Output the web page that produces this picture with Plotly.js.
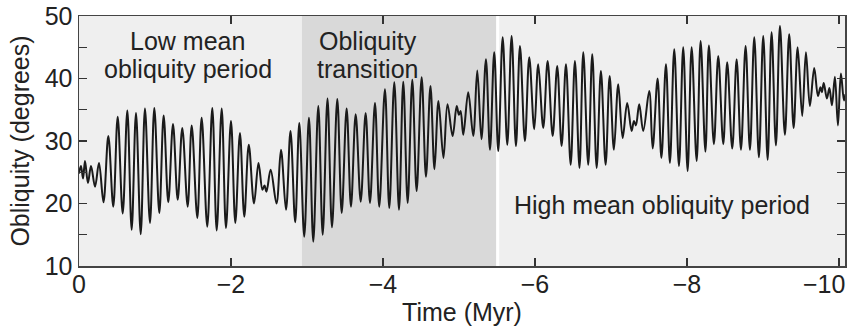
<!DOCTYPE html>
<html>
<head>
<meta charset="utf-8">
<script src="https://cdn.plot.ly/plotly-3.0.1.min.js"></script>
<style>html,body{margin:0;padding:0;background:#fff;}#chart{width:851px;height:326px;}</style>
</head>
<body>
<div id="chart"></div>
<script>
// Time (Myr) of each turning point
const time = [
  0, -0.026, -0.053, -0.079, -0.118, -0.158, -0.211, -0.263, -0.322, -0.386,
  -0.451, -0.509, -0.575, -0.636, -0.693, -0.750, -0.812, -0.868, -0.934, -0.991,
  -1.057, -1.114, -1.175, -1.237, -1.299, -1.359, -1.430, -1.483, -1.557, -1.614,
  -1.688, -1.754, -1.812, -1.878, -1.934, -2.000, -2.057, -2.118, -2.175, -2.234,
  -2.303, -2.362, -2.414, -2.441, -2.467, -2.522, -2.599, -2.658, -2.724, -2.783,
  -2.845, -2.899, -2.964, -3.026, -3.083, -3.149, -3.207, -3.270, -3.329, -3.399,
  -3.457, -3.522, -3.579, -3.641, -3.707, -3.772, -3.829, -3.895, -3.951, -4.026,
  -4.083, -4.149, -4.211, -4.267, -4.325, -4.386, -4.443, -4.509, -4.566, -4.625,
  -4.678, -4.730, -4.796, -4.849, -4.917, -4.970, -5.000, -5.022, -5.057, -5.122,
  -5.188, -5.241, -5.296, -5.355, -5.408, -5.464, -5.517, -5.575, -5.636, -5.693,
  -5.750, -5.803, -5.868, -5.925, -5.991, -6.043, -6.109, -6.167, -6.233, -6.293,
  -6.351, -6.408, -6.470, -6.526, -6.586, -6.636, -6.701, -6.754, -6.812, -6.868,
  -6.930, -6.983, -7.039, -7.096, -7.154, -7.214, -7.272, -7.303, -7.329, -7.372,
  -7.425, -7.504, -7.549, -7.614, -7.664, -7.724, -7.776, -7.833, -7.895, -7.951,
  -8.009, -8.062, -8.128, -8.180, -8.243, -8.289, -8.355, -8.412, -8.478, -8.530,
  -8.596, -8.654, -8.711, -8.772, -8.829, -8.886, -8.947, -9.004, -9.062, -9.114,
  -9.171, -9.224, -9.289, -9.346, -9.404, -9.457, -9.517, -9.566, -9.618, -9.675,
  -9.724, -9.757, -9.776, -9.800, -9.842, -9.875, -9.908, -9.947, -9.987, -10.026,
  -10.066, -10.086
];
// Obliquity (degrees) at those points
const obliquity = [
  24.8, 26.0, 24.0, 26.8, 23.3, 26.0, 22.7, 26.5, 20.2, 30.8,
  19.5, 33.9, 18.4, 34.9, 15.8, 34.5, 15.1, 35.2, 16.9, 35.3,
  18.5, 34.1, 20.2, 32.7, 20.6, 32.1, 19.5, 32.5, 17.7, 33.7,
  16.3, 35.3, 15.7, 35.2, 16.1, 33.2, 16.9, 31.3, 17.9, 29.4,
  20.0, 26.5, 22.2, 22.9, 21.9, 25.4, 20.0, 28.6, 19.0, 31.6,
  17.0, 32.9, 14.7, 33.7, 13.9, 35.6, 15.0, 36.8, 16.2, 36.7,
  18.5, 35.2, 19.5, 34.3, 20.3, 34.5, 20.1, 36.1, 19.5, 38.3,
  19.3, 39.4, 19.0, 39.5, 20.1, 39.8, 22.0, 40.2, 24.3, 38.8,
  25.5, 36.4, 27.3, 35.9, 30.8, 35.6, 34.2, 34.8, 31.0, 37.8,
  30.8, 41.3, 30.3, 43.1, 28.6, 44.2, 28.4, 46.6, 29.4, 46.8,
  29.2, 45.2, 30.0, 43.4, 31.9, 42.3, 32.1, 42.8, 30.8, 42.0,
  29.2, 42.3, 26.2, 42.8, 25.7, 44.2, 26.2, 43.9, 25.7, 41.2,
  26.2, 40.4, 28.6, 39.1, 30.5, 36.1, 31.6, 33.2, 32.5, 35.9,
  31.6, 38.0, 28.8, 40.0, 27.3, 42.3, 26.5, 44.7, 26.0, 45.0,
  25.2, 45.0, 26.8, 46.0, 28.3, 45.3, 29.5, 43.6, 29.5, 42.6,
  28.8, 43.1, 28.6, 45.2, 28.6, 46.6, 27.4, 46.8, 27.0, 47.4,
  29.3, 48.4, 31.0, 47.1, 32.1, 45.0, 34.0, 44.2, 35.6, 41.7,
  37.2, 38.6, 37.8, 39.3, 36.8, 38.5, 35.7, 40.3, 32.5, 40.8,
  36.5, 37.5
];

const xTickVals = [0, -2, -4, -6, -8, -10];
const xTickText = ['0', '\u22122', '\u22124', '\u22126', '\u22128', ''];
const lastXTick = {value: -10, text: '\u221210'};
const yTickVals = [10, 15, 20, 25, 30, 35, 40, 45, 50];
const yTickText = ['10', '', '20', '', '30', '', '40', '', '50'];

const transitionStart = -2.934;
const transitionEnd = -5.49;

const FONT = 'Liberation Sans, Arial, Helvetica, sans-serif';
const INK = '#222222';

const trace = {
  x: time,
  y: obliquity,
  type: 'scatter',
  mode: 'lines',
  line: {color: '#1a1a1a', width: 2, shape: 'spline', smoothing: 1},
  hoverinfo: 'skip'
};

const layout = {
  width: 851,
  height: 326,
  margin: {l: 79, r: 6, t: 16, b: 60},
  paper_bgcolor: '#ffffff',
  plot_bgcolor: '#efefef',
  showlegend: false,
  font: {family: FONT, color: INK},
  xaxis: {
    range: [0, -10.08],
    tickvals: xTickVals,
    ticktext: xTickText,
    ticks: 'inside',
    ticklen: 8,
    tickwidth: 1.3,
    tickcolor: '#333',
    showline: true,
    linecolor: '#444',
    linewidth: 1.5,
    mirror: 'ticks',
    showgrid: false,
    zeroline: false,
    ticklabelstandoff: -5,
    tickfont: {size: 25, family: FONT, color: INK},
    title: {text: 'Time (Myr)', font: {size: 25, family: FONT, color: INK}, standoff: 0}
  },
  yaxis: {
    range: [10, 50],
    tickvals: yTickVals,
    ticktext: yTickText,
    ticks: 'inside',
    ticklen: 8,
    tickwidth: 1.3,
    tickcolor: '#333',
    showline: true,
    linecolor: '#444',
    linewidth: 1.5,
    mirror: 'ticks',
    showgrid: false,
    zeroline: false,
    tickfont: {size: 25, family: FONT, color: INK},
    title: {text: 'Obliquity (degrees)', font: {size: 25, family: FONT, color: INK}, standoff: 8}
  },
  shapes: [
    {type: 'rect', xref: 'x', yref: 'paper', x0: transitionStart, x1: transitionEnd, y0: 0, y1: 1,
     fillcolor: '#d9d9d9', line: {width: 0}, layer: 'below'},
    {type: 'line', xref: 'x', yref: 'paper', x0: transitionEnd - 0.02, x1: transitionEnd - 0.02, y0: 0, y1: 1,
     line: {color: '#ffffff', width: 3}, layer: 'below'}
  ],
  annotations: [
    {text: 'Low mean', x: -1.43, y: 46.0, xref: 'x', yref: 'y', showarrow: false, font: {size: 25, family: FONT, color: INK}},
    {text: 'obliquity period', x: -1.43, y: 41.6, xref: 'x', yref: 'y', showarrow: false, font: {size: 25, family: FONT, color: INK}},
    {text: 'Obliquity', x: -3.80, y: 46.0, xref: 'x', yref: 'y', showarrow: false, font: {size: 25, family: FONT, color: INK}},
    {text: 'transition', x: -3.80, y: 41.6, xref: 'x', yref: 'y', showarrow: false, font: {size: 25, family: FONT, color: INK}},
    {text: 'High mean obliquity period', x: -7.67, y: 19.8, xref: 'x', yref: 'y', showarrow: false, font: {size: 25, family: FONT, color: INK}},
    {text: lastXTick.text, x: lastXTick.value, xref: 'x', y: 0, yref: 'paper', xanchor: 'center', yanchor: 'middle',
     xshift: -15, yshift: -18, showarrow: false, font: {size: 25, family: FONT, color: INK}}
  ]
};

Plotly.newPlot('chart', [trace], layout, {displayModeBar: false, staticPlot: true});
</script>
</body>
</html>
